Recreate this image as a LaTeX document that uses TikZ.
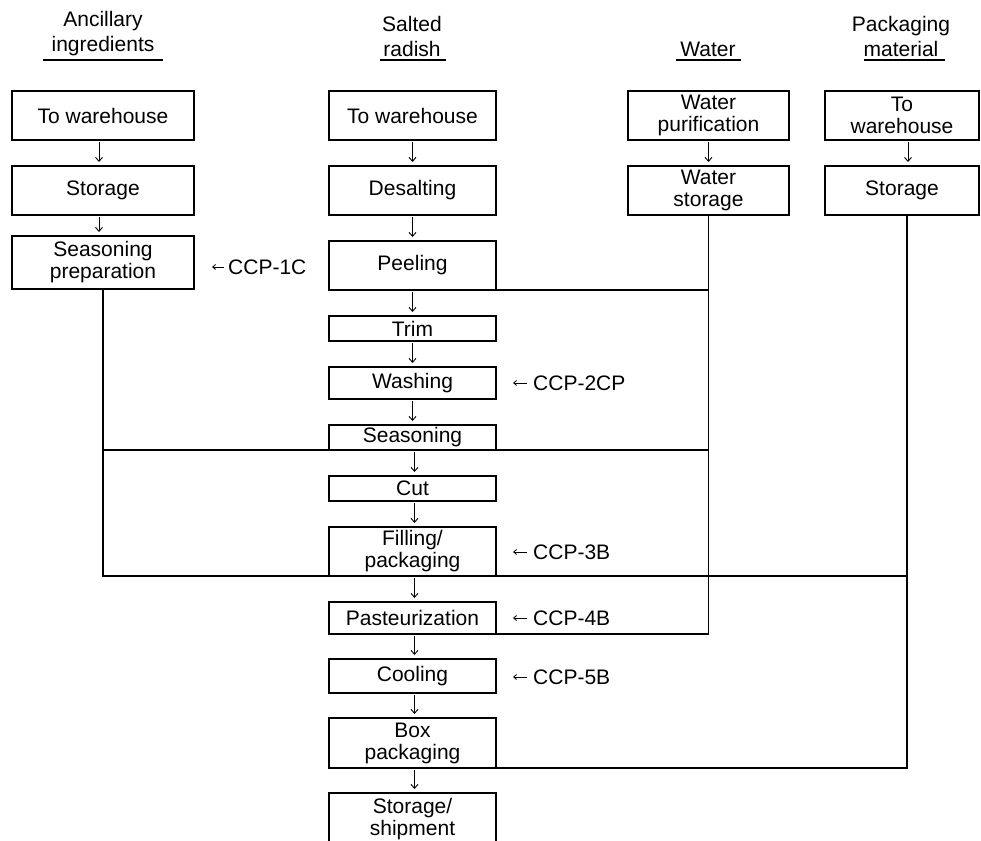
\documentclass[tikz,border=0pt]{standalone}
\usepackage{fontspec}
\setmainfont{Liberation Sans}
\usetikzlibrary{arrows.meta,calc}

\newcommand\flowfont{\fontsize{21}{22}\selectfont}
\newcommand\headfont{\fontsize{21}{25}\selectfont}

\tikzset{
  stepbox/.style={draw, line width=1.6pt, inner sep=0pt, outer sep=0pt, align=center, font=\flowfont},
  headtext/.style={inner sep=0pt, align=center, font=\headfont},
  ccptext/.style={inner sep=0pt, anchor=west, font=\flowfont},
  uline/.style={line width=1.4pt},
  conn/.style={line width=1.6pt, line join=miter},
  flowarrow/.style={line width=0.9pt, -{Straight Barb[length=4pt,width=7pt]}, shorten <=2pt, shorten >=4pt},
  ccparrow/.style={line width=0.8pt, -{Straight Barb[length=3pt,width=5pt]}}
}

% box given by its left, right, top and bottom edges
\newcommand\flowbox[6]{%
  \node[stepbox, minimum width={#3-#2}, minimum height={#5-#4}] (#1)
    at ({(#2+#3)/2},{(#4+#5)/2}) {#6};}

\begin{document}
\begin{tikzpicture}[x=1pt,y=-1pt]
\useasboundingbox (0,0) rectangle (981,840);
\clip (0,0) rectangle (981,840);

% column headings
\node[headtext] (hAnc)  at (103,33.5) {Ancillary\\ingredients};
\node[headtext] (hSal)  at (412,36.5) {Salted\\radish};
\node[headtext] (hWat)  at (708,49.5) {Water};
\node[headtext] (hPack) at (901,36.5) {Packaging\\material};
\draw[uline] (43,60) -- (163,60);
\draw[uline] (380,60) -- (446,60);
\draw[uline] (676,60) -- (741,60);
\draw[uline] (864,60) -- (945,60);

% ancillary ingredients
\flowbox{A1}{12}{194}{91}{140}{To warehouse}
\flowbox{A2}{12}{194}{166}{215}{Storage}
\flowbox{A3}{12}{194}{236}{289}{Seasoning\\preparation}

% salted radish main line
\flowbox{B1}{329}{496}{91}{140}{To warehouse}
\flowbox{Desalt}{329}{496}{166}{215}{Desalting}
\flowbox{Peel}{329}{496}{241}{290}{Peeling}
\flowbox{Trim}{329}{496}{316}{341}{Trim}
\flowbox{Wash}{329}{496}{367}{399}{Washing}
\flowbox{Seas}{329}{496}{425}{450}{Seasoning}
\flowbox{Cut}{329}{496}{476}{501}{Cut}
\flowbox{Fill}{329}{496}{527}{576}{Filling/\\packaging}
\flowbox{Past}{329}{496}{602}{634}{Pasteurization}
\flowbox{Cool}{329}{496}{659}{693}{Cooling}
\flowbox{BoxP}{329}{496}{718}{768}{Box\\packaging}
\flowbox{Ship}{329}{496}{793}{845}{Storage/\\shipment}

% water
\flowbox{W1}{628}{789}{91}{140}{Water\\purification}
\flowbox{W2}{628}{789}{166}{215}{Water\\storage}

% packaging material
\flowbox{P1}{825}{979}{91}{140}{To\\warehouse}
\flowbox{P2}{825}{979}{166}{215}{Storage}

% step arrows
\draw[flowarrow] ($(A1.south)+(-4,0)$) -- ($(A2.north)+(-4,0)$);
\draw[flowarrow] ($(A2.south)+(-4,0)$) -- ($(A3.north)+(-4,0)$);
\draw[flowarrow] (B1.south) -- (Desalt.north);
\draw[flowarrow] (Desalt.south) -- (Peel.north);
\draw[flowarrow] (Peel.south) -- (Trim.north);
\draw[flowarrow] (Trim.south) -- (Wash.north);
\draw[flowarrow] (Wash.south) -- (Seas.north);
\draw[flowarrow] ($(Seas.south)+(2,0)$) -- ($(Cut.north)+(2,0)$);
\draw[flowarrow] ($(Cut.south)+(2,0)$) -- ($(Fill.north)+(2,0)$);
\draw[flowarrow] ($(Fill.south)+(2,0)$) -- ($(Past.north)+(2,0)$);
\draw[flowarrow] ($(Past.south)+(2,0)$) -- ($(Cool.north)+(2,0)$);
\draw[flowarrow] ($(Cool.south)+(2,0)$) -- ($(BoxP.north)+(2,0)$);
\draw[flowarrow] ($(BoxP.south)+(2,0)$) -- ($(Ship.north)+(2,0)$);
\draw[flowarrow] (W1.south) -- (W2.north);
\draw[flowarrow] ($(P1.south)+(6,0)$) -- ($(P2.north)+(6,0)$);

% feed lines into the main line
\coordinate (pDrop) at ($(P2.south)+(5,0)$);
\draw[conn] (Peel.south east) -- (Peel.south east -| W2.south);
\draw[conn] (W2.south) -- (W2.south |- Past.south) -- (Past.south east);
\draw[conn] (A3.south |- Seas.south) -- (Seas.south -| W2.south);
\draw[conn] (A3.south) -- (A3.south |- Fill.south) -- (Fill.south -| pDrop);
\draw[conn] (pDrop) -- (pDrop |- BoxP.south) -- (BoxP.south east);

% critical control points
\node[ccptext] (ccp1) at (228,267) {CCP-1C};
\node[ccptext] (ccp2) at (533,383) {CCP-2CP};
\node[ccptext] (ccp3) at (533,552) {CCP-3B};
\node[ccptext] (ccp4) at (533,618) {CCP-4B};
\node[ccptext] (ccp5) at (533,677) {CCP-5B};
\draw[ccparrow] ($(ccp1.west)+(-4,0)$) -- ($(ccp1.west)+(-16,0)$);
\foreach \c in {ccp2,ccp3,ccp4,ccp5}
  \draw[ccparrow] ($(\c.west)+(-6,0)$) -- ($(\c.west)+(-20,0)$);
\end{tikzpicture}
\end{document}
